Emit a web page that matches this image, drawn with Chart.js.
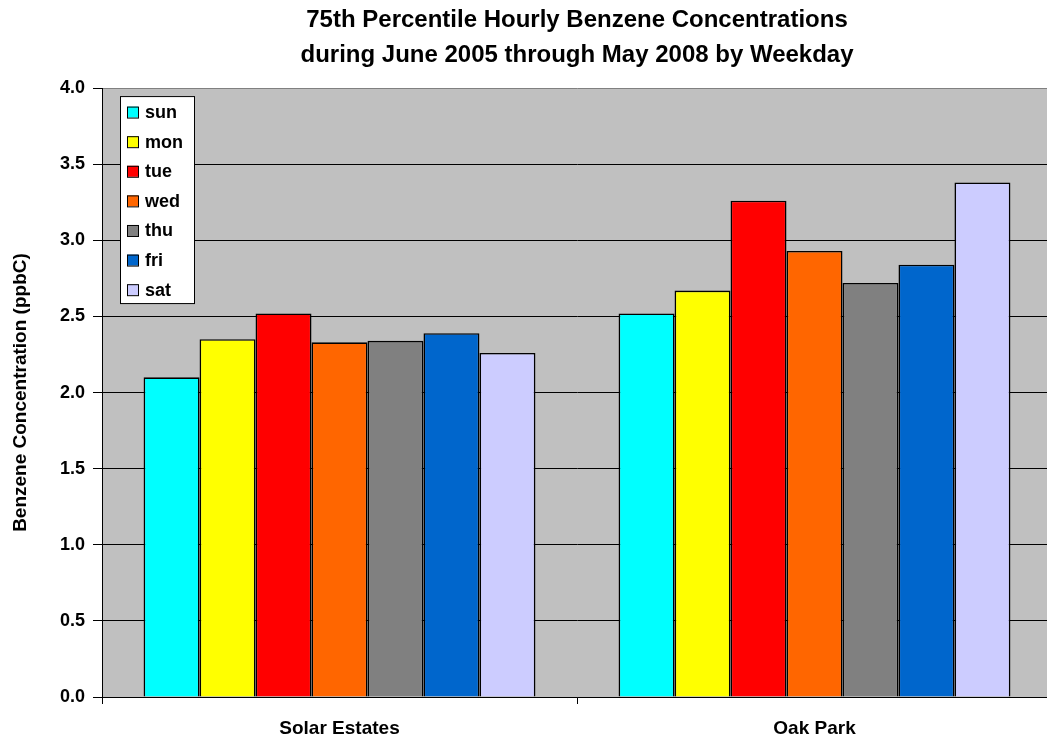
<!DOCTYPE html>
<html>
<head>
<meta charset="utf-8">
<script src="https://cdn.jsdelivr.net/npm/chart.js@4/dist/chart.umd.min.js"></script>
<style>
  html, body { margin: 0; padding: 0; background: #ffffff; overflow: hidden; }
  #wrap { position: absolute; left: 0; top: 0; width: 1052px; height: 742px; }
</style>
</head>
<body>
<div id="wrap"><canvas id="chart" width="1052" height="742"></canvas></div>
<script>
// Sites along the x axis
const sites = ['Solar Estates', 'Oak Park'];

// Weekday series names
const days = ['sun', 'mon', 'tue', 'wed', 'thu', 'fri', 'sat'];

// 75th percentile hourly benzene (ppbC), one array per weekday: [Solar Estates, Oak Park]
const sun = [2.10, 2.52];
const mon = [2.35, 2.67];
const tue = [2.52, 3.26];
const wed = [2.33, 2.93];
const thu = [2.34, 2.72];
const fri = [2.39, 2.84];
const sat = [2.26, 3.38];

// Y axis range and step
const yMin = 0;
const yMax = 4;
const yStep = 0.5;

const titleLines = [
  '75th Percentile Hourly Benzene Concentrations',
  'during June 2005 through May 2008 by Weekday'
];
const yTitle = 'Benzene Concentration (ppbC)';

const seriesValues = [sun, mon, tue, wed, thu, fri, sat];
const dayColors = ['#00FFFF', '#FFFF00', '#FF0000', '#FF6600', '#808080', '#0066CC', '#CCCCFF'];

const FONT = '"Liberation Sans", Arial, Helvetica, sans-serif';

// Grey plot-area fill
const plotBackground = {
  id: 'plotBackground',
  beforeDraw(chart) {
    const { ctx, chartArea: a } = chart;
    ctx.save();
    ctx.fillStyle = '#C0C0C0';
    ctx.fillRect(a.left, a.top, a.right - a.left, a.bottom - a.top);
    ctx.restore();
  }
};

// Boxed legend drawn inside the plot area, top-left
const insetLegend = {
  id: 'insetLegend',
  afterDraw(chart) {
    const { ctx, chartArea: a } = chart;
    const x = a.left + 18, y = a.top + 8, w = 74, h = 207;
    const rowH = 29.6, sw = 11;
    ctx.save();
    ctx.fillStyle = '#FFFFFF';
    ctx.fillRect(x, y, w, h);
    ctx.strokeStyle = '#000000';
    ctx.lineWidth = 1;
    ctx.strokeRect(x + 0.5, y + 0.5, w, h);
    ctx.font = 'bold 18px ' + FONT;
    ctx.textBaseline = 'middle';
    ctx.textAlign = 'left';
    chart.data.datasets.forEach((ds, i) => {
      const cy = y + 16 + i * rowH;
      ctx.fillStyle = ds.backgroundColor;
      ctx.fillRect(x + 7, cy - sw / 2, sw, sw);
      ctx.strokeStyle = '#000000';
      ctx.strokeRect(x + 7.5, cy - sw / 2 + 0.5, sw, sw);
      ctx.fillStyle = '#000000';
      ctx.fillText(ds.label, x + 25, cy + 1);
    });
    ctx.restore();
  }
};

const datasets = days.map((d, i) => ({
  label: d,
  data: seriesValues[i],
  backgroundColor: dayColors[i],
  borderColor: '#000000',
  borderWidth: 1.6,
  borderSkipped: 'bottom',
  categoryPercentage: 0.825,
  barPercentage: 1.0
}));

new Chart(document.getElementById('chart'), {
  type: 'bar',
  data: { labels: sites, datasets },
  plugins: [plotBackground, insetLegend],
  options: {
    responsive: false,
    animation: false,
    layout: { padding: { left: 0, right: 0, top: 0, bottom: 0 } },
    plugins: {
      legend: { display: false },
      tooltip: { enabled: false },
      title: {
        display: true,
        text: titleLines,
        fullSize: false,
        color: '#000000',
        font: { family: FONT, size: 24, weight: 'bold', lineHeight: 1.46 },
        padding: { top: 3, bottom: 15 }
      }
    },
    scales: {
      x: {
        grid: {
          display: true,
          offset: true,
          drawOnChartArea: false,
          tickLength: 7,
          tickColor: '#000000'
        },
        border: { display: true, color: '#000000', width: 1 },
        ticks: {
          color: '#000000',
          padding: 13,
          font: { family: FONT, size: 19, weight: 'bold' }
        },
        afterFit(scale) { scale.height = 45; }
      },
      y: {
        min: yMin,
        max: yMax,
        ticks: {
          stepSize: yStep,
          color: '#000000',
          padding: 8,
          font: { family: FONT, size: 18, weight: 'bold' },
          callback: v => Number(v).toFixed(1)
        },
        grid: {
          color: c => (c.tick && c.tick.value === yMax) ? '#808080' : '#000000',
          tickColor: '#000000',
          tickLength: 9,
          lineWidth: 1
        },
        border: { display: true, color: '#000000', width: 1 },
        title: {
          display: true,
          text: yTitle,
          color: '#000000',
          font: { family: FONT, size: 19, weight: 'bold' },
          padding: { top: 9, bottom: 0 }
        },
        afterFit(scale) { scale.width = 102; }
      }
    }
  }
});
</script>
</body>
</html>
